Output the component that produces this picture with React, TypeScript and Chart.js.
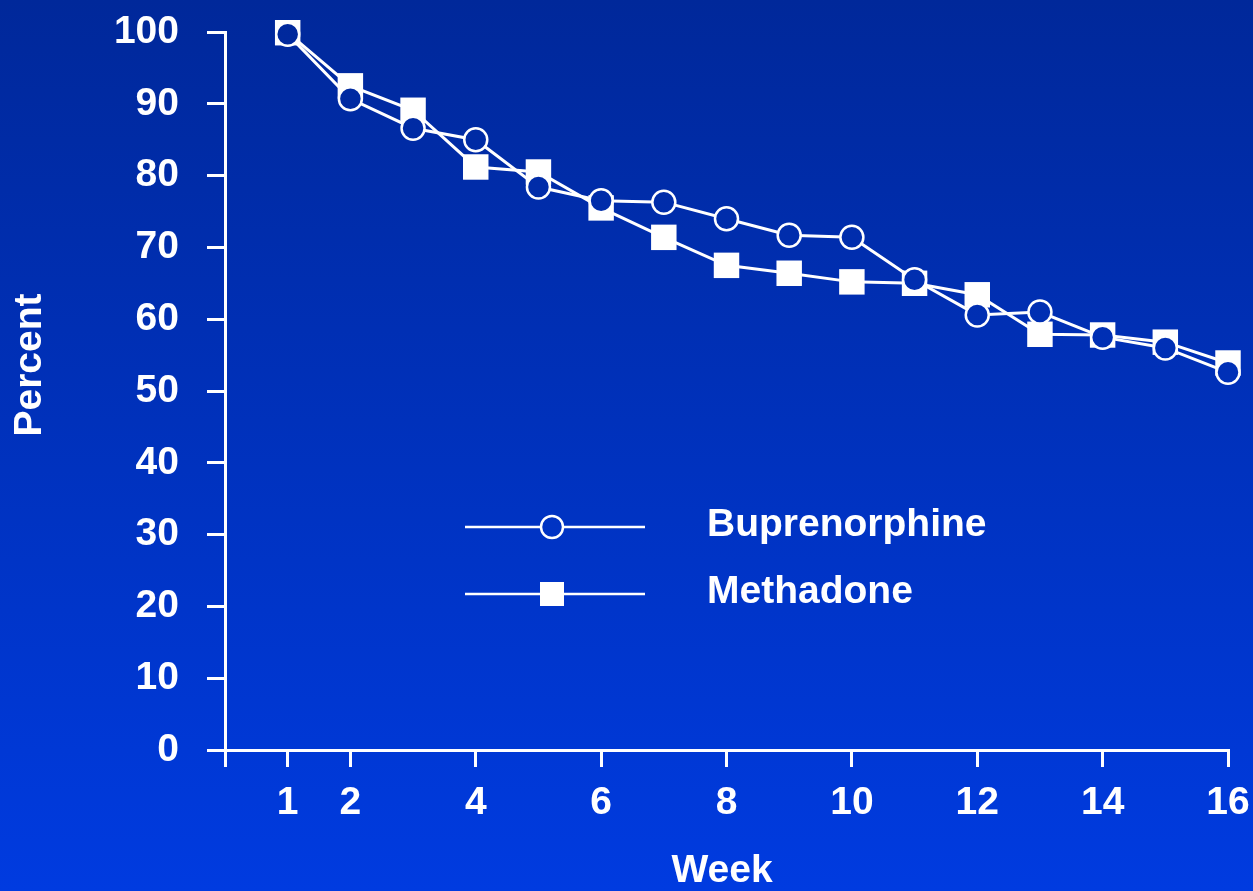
import { useEffect, useRef } from "react";
import { Chart, registerables } from "chart.js";

Chart.register(...registerables);

const weeks = [1, 2, 3, 4, 5, 6, 7, 8, 9, 10, 11, 12, 13, 14, 15, 16];
const buprenorphine = [99.7, 90.7, 86.6, 85.0, 78.4, 76.5, 76.3, 74.0, 71.7, 71.4, 65.5, 60.6, 61.0, 57.5, 56.0, 52.6];
const methadone = [99.9, 92.5, 89.1, 81.2, 80.5, 75.5, 71.4, 67.5, 66.4, 65.2, 65.0, 63.4, 57.9, 57.8, 56.8, 53.9];
const seriesNames = ["Buprenorphine", "Methadone"];
const xTicks = [0, 1, 2, 4, 6, 8, 10, 12, 14, 16];
const yTicks = [0, 10, 20, 30, 40, 50, 60, 70, 80, 90, 100];
const xTitle = "Week";
const yTitle = "Percent";

const FONT = "'Liberation Sans', Arial, Helvetica, sans-serif";
const FONT_SIZE = 39;
const BG_TOP = "#00289a";
const BG_BOTTOM = "#003be0";

function bgGradient(chart: any) {
  const g = chart.ctx.createLinearGradient(0, 0, 0, chart.height);
  g.addColorStop(0, BG_TOP);
  g.addColorStop(1, BG_BOTTOM);
  return g;
}

const backgroundPlugin = {
  id: "bg",
  beforeDraw(chart: any) {
    const ctx = chart.ctx;
    ctx.save();
    ctx.fillStyle = bgGradient(chart);
    ctx.fillRect(0, 0, chart.width, chart.height);
    ctx.restore();
  },
};

const titlesPlugin = {
  id: "titles",
  afterDraw(chart: any) {
    const ctx = chart.ctx;
    ctx.save();
    ctx.fillStyle = "#ffffff";
    ctx.font = `bold ${FONT_SIZE}px ${FONT}`;
    ctx.textAlign = "center";
    ctx.textBaseline = "middle";
    ctx.fillText(xTitle, 722, 871);
    ctx.translate(30, 365);
    ctx.rotate(-Math.PI / 2);
    ctx.fillText(yTitle, 0, 0);
    ctx.restore();
  },
};

const legendPlugin = {
  id: "customLegend",
  afterDatasetsDraw(chart: any) {
    const ctx = chart.ctx;
    const area = chart.chartArea;
    const x0 = area.left + 240;
    const x1 = area.left + 420;
    const xm = area.left + 327;
    const rows = [area.top + 495, area.top + 562];
    ctx.save();
    rows.forEach((y, i) => {
      ctx.strokeStyle = "#ffffff";
      ctx.lineWidth = 2.5;
      ctx.beginPath();
      ctx.moveTo(x0, y);
      ctx.lineTo(x1, y);
      ctx.stroke();
      if (i === 0) {
        ctx.beginPath();
        ctx.arc(xm, y, 11, 0, Math.PI * 2);
        ctx.fillStyle = bgGradient(chart);
        ctx.fill();
        ctx.lineWidth = 2.5;
        ctx.stroke();
      } else {
        ctx.fillStyle = "#ffffff";
        ctx.fillRect(xm - 12, y - 12, 24, 24);
      }
      ctx.fillStyle = "#ffffff";
      ctx.font = `bold ${FONT_SIZE}px ${FONT}`;
      ctx.textAlign = "left";
      ctx.textBaseline = "middle";
      ctx.fillText(seriesNames[i], area.left + 482, y - 2);
    });
    ctx.restore();
  },
};

export default function App() {
  const canvasRef = useRef<HTMLCanvasElement | null>(null);

  useEffect(() => {
    const canvas = canvasRef.current;
    if (!canvas) return;
    const tickFont = { family: FONT, size: FONT_SIZE, weight: "bold" as const };
    const chart = new Chart(canvas, {
      type: "line",
      data: {
        datasets: [
          {
            label: seriesNames[0],
            data: weeks.map((w, i) => ({ x: w, y: buprenorphine[i] })),
            borderColor: "#ffffff",
            borderWidth: 3,
            pointStyle: "circle",
            pointRadius: 11.5,
            pointBorderWidth: 2.5,
            pointBorderColor: "#ffffff",
            pointBackgroundColor: (c: any) => bgGradient(c.chart),
            tension: 0,
            clip: false,
          },
          {
            label: seriesNames[1],
            data: weeks.map((w, i) => ({ x: w, y: methadone[i] })),
            borderColor: "#ffffff",
            borderWidth: 3,
            pointStyle: "rect",
            pointRadius: 18,
            pointBorderWidth: 0,
            pointBorderColor: "#ffffff",
            pointBackgroundColor: "#ffffff",
            tension: 0,
            clip: false,
          },
        ],
      },
      options: {
        animation: false,
        responsive: false,
        events: [],
        layout: { padding: { top: 32, right: 25, left: 0, bottom: 0 } },
        plugins: {
          legend: { display: false },
          tooltip: { enabled: false },
        },
        scales: {
          x: {
            type: "linear",
            min: 0,
            max: 16,
            afterBuildTicks: (s: any) => {
              s.ticks = xTicks.map((v) => ({ value: v }));
            },
            afterFit: (s: any) => {
              s.height = 141;
              s.paddingLeft = 0;
              s.paddingRight = 0;
              s.paddingTop = 0;
              s.paddingBottom = 0;
            },
            ticks: {
              autoSkip: false,
              maxRotation: 0,
              color: "#ffffff",
              font: tickFont,
              padding: 13,
              callback: (v: any) => (v === 0 ? "" : String(v)),
            },
            grid: {
              drawOnChartArea: false,
              drawTicks: true,
              tickLength: 17,
              tickWidth: 3,
              tickColor: "#ffffff",
              color: "#ffffff",
              lineWidth: 3,
            },
            border: { display: true, color: "#ffffff", width: 3 },
          },
          y: {
            type: "linear",
            min: 0,
            max: 100,
            afterBuildTicks: (s: any) => {
              s.ticks = yTicks.map((v) => ({ value: v }));
            },
            afterFit: (s: any) => {
              s.width = 225;
              s.paddingLeft = 0;
              s.paddingRight = 0;
              s.paddingTop = 0;
              s.paddingBottom = 0;
            },
            ticks: {
              autoSkip: false,
              color: "#ffffff",
              font: tickFont,
              padding: 28,
            },
            grid: {
              drawOnChartArea: false,
              drawTicks: true,
              tickLength: 18,
              tickWidth: 3,
              tickColor: "#ffffff",
              color: "#ffffff",
              lineWidth: 3,
            },
            border: { display: true, color: "#ffffff", width: 3 },
          },
        },
      },
      plugins: [backgroundPlugin, legendPlugin, titlesPlugin],
    });
    return () => chart.destroy();
  }, []);

  return (
    <div style={{ position: "fixed", left: 0, top: 0, width: 1253, height: 891, overflow: "hidden" }}>
      <canvas ref={canvasRef} width={1253} height={891} style={{ display: "block", width: 1253, height: 891 }} />
    </div>
  );
}
